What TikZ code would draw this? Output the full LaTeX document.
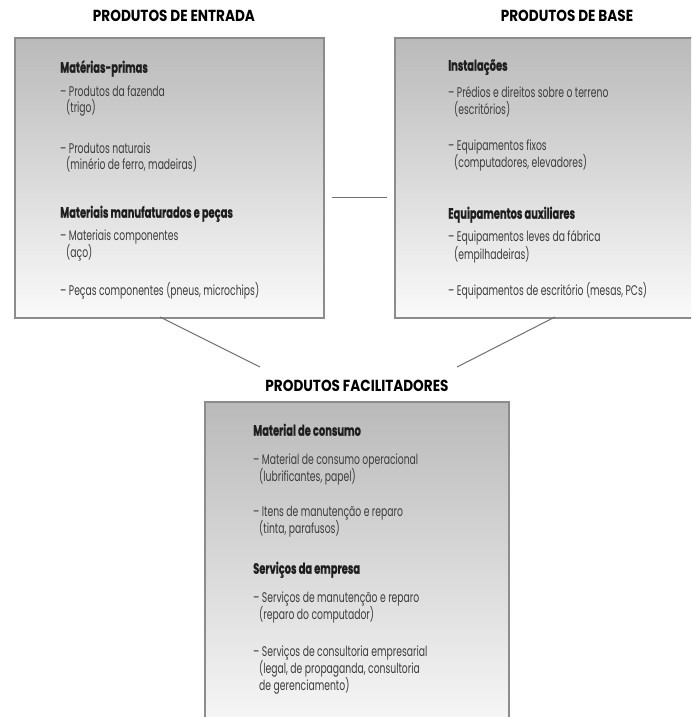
\documentclass[tikz,border=0pt]{standalone}
\usepackage{fontspec}
\setmainfont{Poppins}
\newfontfamily\bodyf[FakeStretch=0.66]{Poppins}
\newfontfamily\headf[FakeStretch=0.66, BoldFeatures={FakeBold=0.6}]{Poppins}
\newfontfamily\titlef[FakeStretch=0.85]{Poppins}
\definecolor{boxtop}{HTML}{BABABA}
\definecolor{boxbot}{HTML}{FAFAFA}
\definecolor{boxedge}{HTML}{8C8C8C}
\definecolor{bodytxt}{HTML}{3C3C3C}
\definecolor{headtxt}{HTML}{1E1E1E}
\definecolor{linecol}{HTML}{707070}
\begin{document}
\begin{tikzpicture}[x=1pt,y=-1pt,
  panel/.style={draw=boxedge, line width=1.6pt, top color=boxtop, bottom color=boxbot,
    anchor=north west, inner sep=0pt},
  txt/.style={anchor=mid west, inner sep=0pt, text=bodytxt,
    font=\bodyf\fontsize{14}{16}\selectfont},
  hd/.style={anchor=mid west, inner sep=0pt, text=headtxt,
    font=\headf\bfseries\fontsize{15}{18}\selectfont},
  ttl/.style={anchor=center, inner sep=0pt, text=black,
    font=\titlef\bfseries\fontsize{16}{19}\selectfont},
  conn/.style={draw=linecol, line width=1pt}]
\path[use as bounding box, fill=white] (0,0) rectangle (691,717);
\clip (0,0) rectangle (691,717);

% panels
\node[panel, minimum width=309pt, minimum height=280pt] (L) at (14,37) {};
\node[panel, minimum width=310pt, minimum height=280pt] (R) at (394,37) {};
\node[panel, minimum width=304pt, minimum height=340pt] (B) at (204,401) {};

% titles
\node[ttl] (tL) at (174,16) {PRODUTOS DE ENTRADA};
\node[ttl] (tR) at (567,16) {PRODUTOS DE BASE};
\node[ttl] (tB) at (357,386) {PRODUTOS FACILITADORES};

% left panel text
\node[hd]  (l1) at (60,70)  {Matérias-primas};
\node[txt] (l2) at (60,94)  {– Produtos da fazenda};
\node[txt] (l3) at (66,110) {(trigo)};
\node[txt] (l4) at (60,151) {– Produtos naturais};
\node[txt] (l5) at (66,167) {(minério de ferro, madeiras)};
\node[hd]  (l6) at (60,215) {Materiais manufaturados e peças};
\node[txt] (l7) at (60,238) {– Materiais componentes};
\node[txt] (l8) at (66,255) {(aço)};
\node[txt] (l9) at (60,293) {– Peças componentes (pneus, microchips)};

% right panel text
\node[hd]  (r1) at (448,68)  {Instalações};
\node[txt] (r2) at (448,95)  {– Prédios e direitos sobre o terreno};
\node[txt] (r3) at (454,112) {(escritórios)};
\node[txt] (r4) at (448,148) {– Equipamentos fixos};
\node[txt] (r5) at (454,165) {(computadores, elevadores)};
\node[hd]  (r6) at (448,216) {Equipamentos auxiliares};
\node[txt] (r7) at (448,239) {– Equipamentos leves da fábrica};
\node[txt] (r8) at (454,257) {(empilhadeiras)};
\node[txt] (r9) at (448,293) {– Equipamentos de escritório (mesas, PCs)};

% bottom panel text
\node[hd]  (b1)  at (253,433) {Material de consumo};
\node[txt] (b2)  at (253,462) {– Material de consumo operacional};
\node[txt] (b3)  at (259,479) {(lubrificantes, papel)};
\node[txt] (b4)  at (253,514) {– Itens de manutenção e reparo};
\node[txt] (b5)  at (259,531) {(tinta, parafusos)};
\node[hd]  (b6)  at (253,571) {Serviços da empresa};
\node[txt] (b7)  at (253,600) {– Serviços de manutenção e reparo};
\node[txt] (b8)  at (259,617) {(reparo do computador)};
\node[txt] (b9)  at (253,654) {– Serviços de consultoria empresarial};
\node[txt] (b10) at (259,671) {(legal, de propaganda, consultoria};
\node[txt] (b11) at (259,688) {de gerenciamento)};

% connectors
\coordinate (hm) at (0,197);
\draw[conn, shorten <=7pt, shorten >=7pt] (L.east |- hm) -- (R.west |- hm);
\coordinate (dLa) at (160,317);
\coordinate (dLb) at (260,367);
\coordinate (dRa) at (555,317);
\coordinate (dRb) at (457,367);
\draw[conn] (dLa) -- (dLb);
\draw[conn] (dRa) -- (dRb);
\end{tikzpicture}
\end{document}
